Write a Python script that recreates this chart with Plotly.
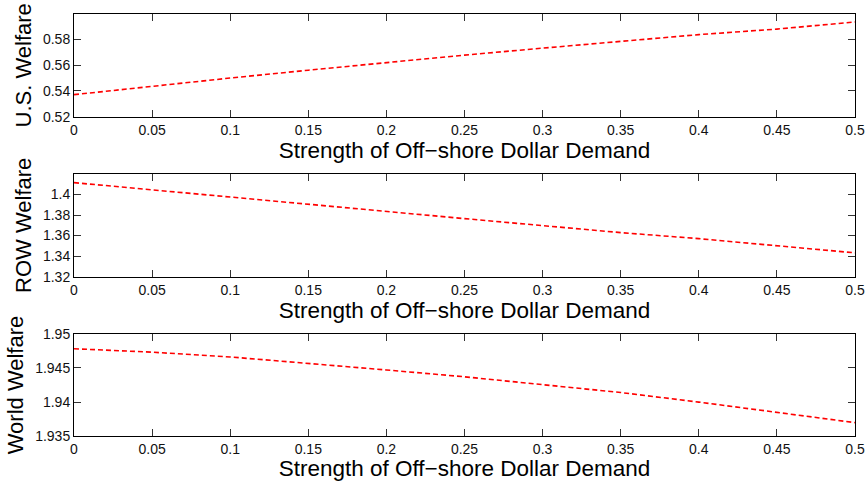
import plotly.graph_objects as go

# Strength of off-shore dollar demand (x values shared by all panels)
strength = [0.0, 0.05, 0.10, 0.15, 0.20, 0.25, 0.30, 0.35, 0.40, 0.45, 0.50]

# Welfare series
us_welfare = [0.5371, 0.5438, 0.5500, 0.5561, 0.5620, 0.5678, 0.5732, 0.5784, 0.5837, 0.5880, 0.5935]
row_welfare = [1.4115, 1.4044, 1.3977, 1.3909, 1.3837, 1.3765, 1.3697, 1.3629, 1.3570, 1.3498, 1.3432]
world_welfare = [1.9478, 1.9473, 1.9466, 1.9457, 1.9447, 1.9437, 1.9426, 1.9414, 1.9400, 1.9385, 1.9370]

# Tick labels
x_ticks = [0, 0.05, 0.1, 0.15, 0.2, 0.25, 0.3, 0.35, 0.4, 0.45, 0.5]
x_ticktext = ["0", "0.05", "0.1", "0.15", "0.2", "0.25", "0.3", "0.35", "0.4", "0.45", "0.5"]
us_ticks = [0.52, 0.54, 0.56, 0.58]
us_ticktext = ["0.52", "0.54", "0.56", "0.58"]
row_ticks = [1.32, 1.34, 1.36, 1.38, 1.40]
row_ticktext = ["1.32", "1.34", "1.36", "1.38", "1.4"]
world_ticks = [1.935, 1.940, 1.945, 1.950]
world_ticktext = ["1.935", "1.94", "1.945", "1.95"]

x_title = "Strength of Off\u2212shore Dollar Demand"
y_titles = ["U.S. Welfare", "ROW Welfare", "World Welfare"]

W, H = 866, 481
FONT = "Liberation Sans, Arial, Helvetica, sans-serif"

# panel boxes in pixels (top, bottom)
x_left, x_right = 74, 855
panels = [(14, 116.7), (174, 276.7), (333.7, 436.3)]
y_ranges = [[0.52, 0.5997], [1.32, 1.4199], [1.935, 1.95]]
y_tickvals = [us_ticks, row_ticks, world_ticks]
y_ticktexts = [us_ticktext, row_ticktext, world_ticktext]
series = [us_welfare, row_welfare, world_welfare]

fig = go.Figure()
layout = dict(
    width=W, height=H,
    margin=dict(l=0, r=0, t=0, b=0, autoexpand=False),
    paper_bgcolor="white", plot_bgcolor="white",
    showlegend=False,
    font=dict(family=FONT, color="black"),
)

axis_common = dict(
    showline=True, linecolor="black", linewidth=1, mirror="ticks",
    ticks="inside", ticklen=7, tickcolor="#333333", tickwidth=1,
    showgrid=False, zeroline=False, automargin=False,
    tickfont=dict(family=FONT, size=14, color="#111111"),
)

for i, (top, bot) in enumerate(panels):
    n = "" if i == 0 else str(i + 1)
    fig.add_trace(go.Scatter(
        x=strength, y=series[i], mode="lines",
        line=dict(color="#ff0000", width=1.6, dash="5px,3px"),
        xaxis="x" + n, yaxis="y" + n,
    ))
    layout["xaxis" + n] = dict(
        axis_common,
        domain=[x_left / W, x_right / W],
        range=[0, 0.5],
        tickvals=x_ticks, ticktext=x_ticktext,
        anchor="y" + n,
        title=dict(text=x_title, font=dict(family=FONT, size=22.5), standoff=0),
    )
    layout["yaxis" + n] = dict(
        axis_common,
        domain=[1 - bot / H, 1 - top / H],
        range=y_ranges[i],
        tickvals=y_tickvals[i], ticktext=y_ticktexts[i],
        anchor="x" + n,
        title=dict(text=y_titles[i], font=dict(family=FONT, size=22), standoff=5),
    )

fig.update_layout(**layout)
fig.write_html("out.html")
